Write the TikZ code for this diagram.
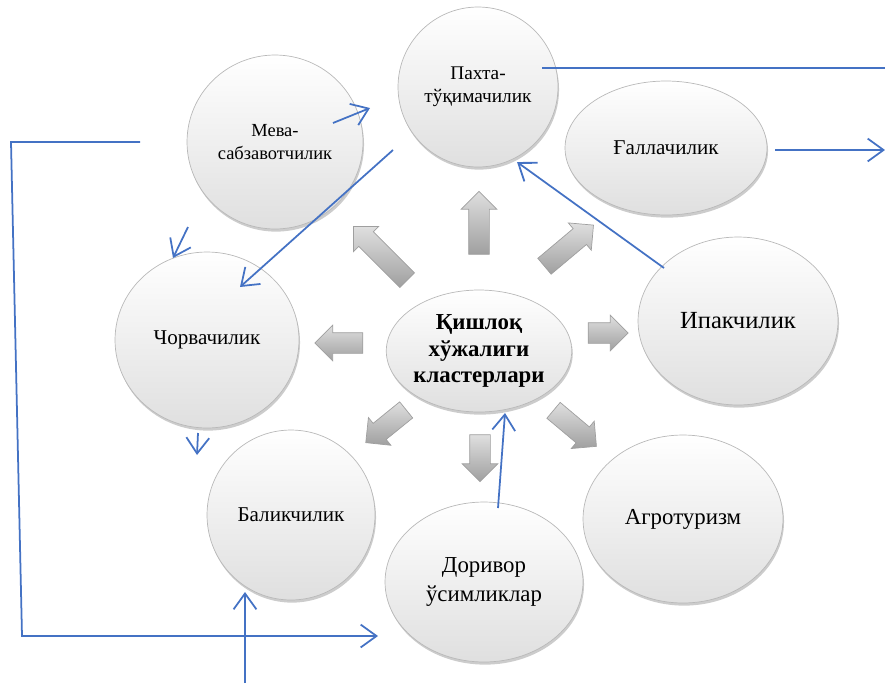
\documentclass[tikz,border=0pt]{standalone}
\usepackage{fontspec}
\setmainfont{Liberation Serif}
\usepackage{xcolor}
\definecolor{blueLine}{RGB}{68,114,196}
\usepackage{tikz}
\usetikzlibrary{arrows.meta, positioning, shapes.geometric, shapes.arrows, shadows}
\tikzset{cluster/.style={ellipse, inner sep=0pt, draw=gray!55, thin,
  top color=white, middle color=white, bottom color=gray!25,
  drop shadow={opacity=0.4, shadow xshift=0.6pt, shadow yshift=-1.5pt},
  align=center},
grayarrow/.style={single arrow, draw=gray!75, top color=gray!25, bottom color=gray!75,
  inner xsep=0pt, inner ysep=0.2cm, single arrow head extend=0.15cm, minimum height=#1},
grayarrow/.default=1cm,
link/.style={draw=blueLine, line width=1pt, -{Straight Barb[length=9pt, width=13pt]}},
plainlink/.style={draw=blueLine, line width=1pt}}

\begin{document}
\begin{tikzpicture}[x=0.02cm, y=-0.02cm]
        \useasboundingbox (0,0) rectangle (885,683);

        % === Clusters ===
        \node[cluster, minimum width=3.2cm, minimum height=3.2cm, font=\fontsize{11}{13}\selectfont] (pakhta) at (478,87) {Пахта-\\тўқимачилик};
        \node[cluster, minimum width=3.52cm, minimum height=3.48cm, font=\fontsize{10.5}{13}\selectfont] (meva) at (275,142) {Мева-\\сабзавотчилик};
        \node[cluster, minimum width=4.04cm, minimum height=2.68cm, font=\fontsize{12}{14}\selectfont] (galla) at (666,148) {Ғаллачилик};
        \node[cluster, minimum width=3.68cm, minimum height=3.52cm, font=\fontsize{12}{14}\selectfont] (chorva) at (207,340) {Чорвачилик};
        \node[cluster, minimum width=4cm, minimum height=3.36cm, font=\fontsize{14}{16}\selectfont] (ipak) at (738,321) {Ипакчилик};
        \node[cluster, minimum width=3.36cm, minimum height=3.4cm, font=\fontsize{12}{14}\selectfont] (balik) at (291,515) {Баликчилик};
        \node[cluster, minimum width=4cm, minimum height=3.36cm, font=\fontsize{13}{15}\selectfont] (agro) at (683,519) {Агротуризм};
        \node[cluster, minimum width=3.96cm, minimum height=3.2cm, font=\fontsize{13}{16}\selectfont] (dorivor) at (484,582) {Доривор\\ўсимликлар};

        % center
        \node[cluster, minimum width=3.64cm, minimum height=2.44cm, font=\fontsize{13}{15}\selectfont\bfseries] (center) at (479,351) {Қишлоқ\\хўжалиги\\кластерлари};

        % === Gray arrows round the center ===
        \foreach \x/\y/\a/\l [count=\i] in {479/228/90/63, 384/257/135/76, 565/249/40/64, 344/343/180/48,
                                            603/333/0/40, 390/423/219/52, 480/453/270/47, 571/425/-40/56}
        {\node[grayarrow=\l*0.02cm, rotate=\a] (g\i) at (\x,\y) {};}

        % === Blue connectors ===
        \coordinate (pakhtaout) at (542,68);
        \coordinate (rightedge) at (885,68);
        \coordinate (gallaout) at (775,150);
        \coordinate (gallaend) at (885,150);
        \coordinate (mevaout) at (333,123);
        \coordinate (pakhtain) at (370,108);
        \coordinate (pakhtadown) at (393,150);
        \coordinate (chorvain) at (240,287);
        \coordinate (chorvatop) at (188,227);
        \coordinate (chorvatopin) at (173,258);
        \coordinate (chorvaout) at (198,433);
        \coordinate (chorvabelow) at (197,455);
        \coordinate (ipakout) at (664,268);
        \coordinate (pakhtabelow) at (517,162);
        \coordinate (dorivorout) at (498,508);
        \coordinate (centerin) at (505,413);
        \coordinate (bracketA) at (140,142);
        \coordinate (bracketB) at (11,142);
        \coordinate (bracketC) at (22,636);
        \coordinate (dorivorin) at (378,636);
        \coordinate (bottomedge) at (245,683);
        \coordinate (balikin) at (245,592);

        \draw[plainlink] (pakhtaout) -- (rightedge);
        \draw[link] (gallaout) -- (gallaend);
        \draw[link] (mevaout) -- (pakhtain);
        \draw[link] (pakhtadown) -- (chorvain);
        \draw[link] (chorvatop) -- (chorvatopin);
        \draw[link] (chorvaout) -- (chorvabelow);
        \draw[link] (ipakout) -- (pakhtabelow);
        \draw[link] (dorivorout) -- (centerin);
        \draw[link] (bracketA) -- (bracketB) -- (bracketC) -- (dorivorin);
        \draw[link] (bottomedge) -- (balikin);

        \end{tikzpicture}
\end{document}
